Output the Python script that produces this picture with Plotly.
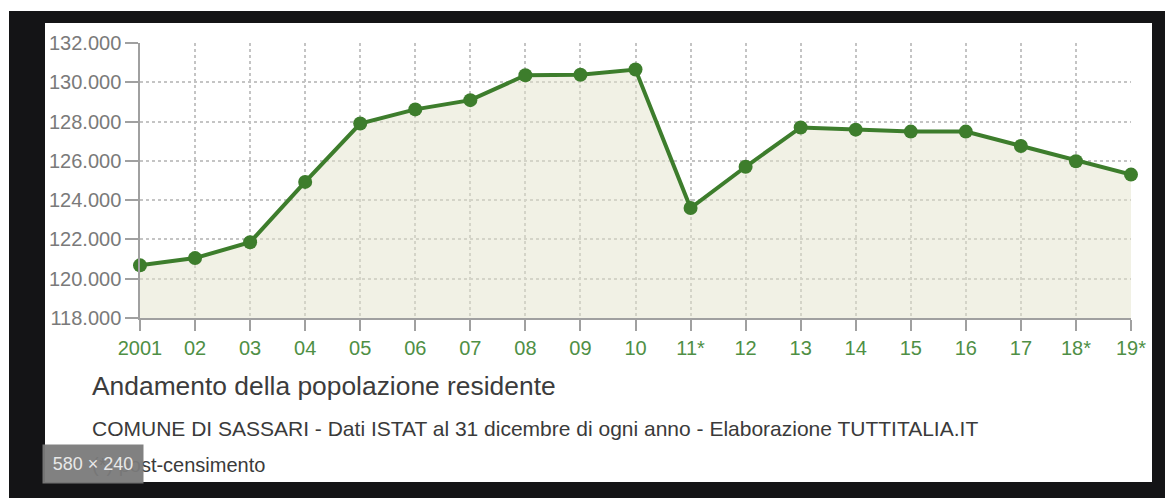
import plotly.graph_objects as go

# Residents at 31 December of each year
years = ["2001", "02", "03", "04", "05", "06", "07", "08", "09", "10",
         "11*", "12", "13", "14", "15", "16", "17", "18*", "19*"]
population = [120680, 121050, 121860, 124930, 127900, 128620, 129090, 130360,
              130380, 130650, 123600, 125700, 127700, 127590, 127490, 127490,
              126760, 125980, 125300]

y_ticks = [118000, 120000, 122000, 124000, 126000, 128000, 130000, 132000]
y_tick_labels = ["118.000", "120.000", "122.000", "124.000", "126.000",
                 "128.000", "130.000", "132.000"]

title = "Andamento della popolazione residente"
subtitle = ("COMUNE DI SASSARI - Dati ISTAT al 31 dicembre di ogni anno - "
            "Elaborazione TUTTITALIA.IT")
footnote = "(*) post-censimento"
badge = "580 × 240"

W, H = 1165, 498
M_L, M_R, M_T, M_B = 140, 34, 43, 180
PW, PH = W - M_L - M_R, H - M_T - M_B

xs = list(range(len(years)))


def px_x(px):
    return (px - M_L) / PW


def px_y(py):
    return (H - M_B - py) / PH


LINE = "#3d7d2c"
FONT = "Liberation Sans, Arial, sans-serif"

fig = go.Figure()

# shaded area under the curve
fig.add_trace(go.Scatter(
    x=xs, y=population, mode="none", fill="tozeroy",
    fillcolor="rgba(227,227,203,0.5)", hoverinfo="skip", showlegend=False,
))

# population line with markers (on the grid overlay axes)
fig.add_trace(go.Scatter(
    x=xs, y=population, mode="lines+markers",
    line=dict(color=LINE, width=4),
    marker=dict(color=LINE, size=14),
    cliponaxis=False, showlegend=False,
    xaxis="x2", yaxis="y2",
))

x_range = [0, len(years) - 1]
y_range = [y_ticks[0], y_ticks[-1]]

fig.update_layout(
    width=W, height=H,
    margin=dict(l=M_L, r=M_R, t=M_T, b=M_B),
    paper_bgcolor="white",
    plot_bgcolor="rgba(0,0,0,0)",
    font=dict(family=FONT),
    xaxis=dict(
        range=x_range, tickmode="array", tickvals=xs, ticktext=years,
        showgrid=False, zeroline=False,
        showline=True, linecolor="#a0a0a0", linewidth=1.5,
        ticks="outside", ticklen=11, tickwidth=1.5, tickcolor="#a0a0a0",
        tickfont=dict(size=20, color="#4f8f45"),
    ),
    yaxis=dict(
        range=y_range, tickmode="array", tickvals=y_ticks, ticktext=y_tick_labels,
        showgrid=False, zeroline=False,
        showline=True, linecolor="#a0a0a0", linewidth=1.5,
        ticks="outside", ticklen=13, tickwidth=1.5, tickcolor="#a0a0a0",
        tickfont=dict(size=20, color="#7a7a7a"),
    ),
    xaxis2=dict(
        overlaying="x", range=x_range, tickmode="array", tickvals=xs[1:-1],
        showgrid=True, gridcolor="#c4c4c4", griddash="dot", gridwidth=1.5,
        showticklabels=False, ticks="", zeroline=False, showline=False,
    ),
    yaxis2=dict(
        overlaying="y", range=y_range, tickmode="array", tickvals=y_ticks[1:-1],
        showgrid=True, gridcolor="#c4c4c4", griddash="dot", gridwidth=1.5,
        showticklabels=False, ticks="", zeroline=False, showline=False,
    ),
)

# dark frame and white card behind the chart
fig.add_shape(type="rect", xref="paper", yref="paper", layer="below",
              x0=px_x(9), x1=px_x(W + 5), y0=px_y(H + 5), y1=px_y(11),
              fillcolor="#141416", line=dict(width=0))
fig.add_shape(type="rect", xref="paper", yref="paper", layer="below",
              x0=px_x(45), x1=px_x(1152), y0=px_y(482), y1=px_y(23),
              fillcolor="white", line=dict(width=0))

fig.add_annotation(text=title, xref="paper", yref="paper",
                   x=px_x(90), y=px_y(386), xanchor="left", yanchor="middle",
                   showarrow=False, font=dict(size=26.4, color="#3c3c3c"))
fig.add_annotation(text=subtitle, xref="paper", yref="paper",
                   x=px_x(90), y=px_y(428), xanchor="left", yanchor="middle",
                   showarrow=False, font=dict(size=21, color="#3a3a3a"))
fig.add_annotation(text=footnote, xref="paper", yref="paper",
                   x=px_x(90), y=px_y(465), xanchor="left", yanchor="middle",
                   showarrow=False, font=dict(size=20, color="#3a3a3a"))
# image-size badge laid over the footnote
fig.add_annotation(text=badge, xref="paper", yref="paper",
                   x=px_x(42), y=px_y(464), xanchor="left", yanchor="middle",
                   showarrow=False, bgcolor="rgba(122,122,122,0.95)",
                   width=96, height=34, borderpad=2,
                   font=dict(size=18, color="#e8e8e8"))

fig.write_html("out.html")
